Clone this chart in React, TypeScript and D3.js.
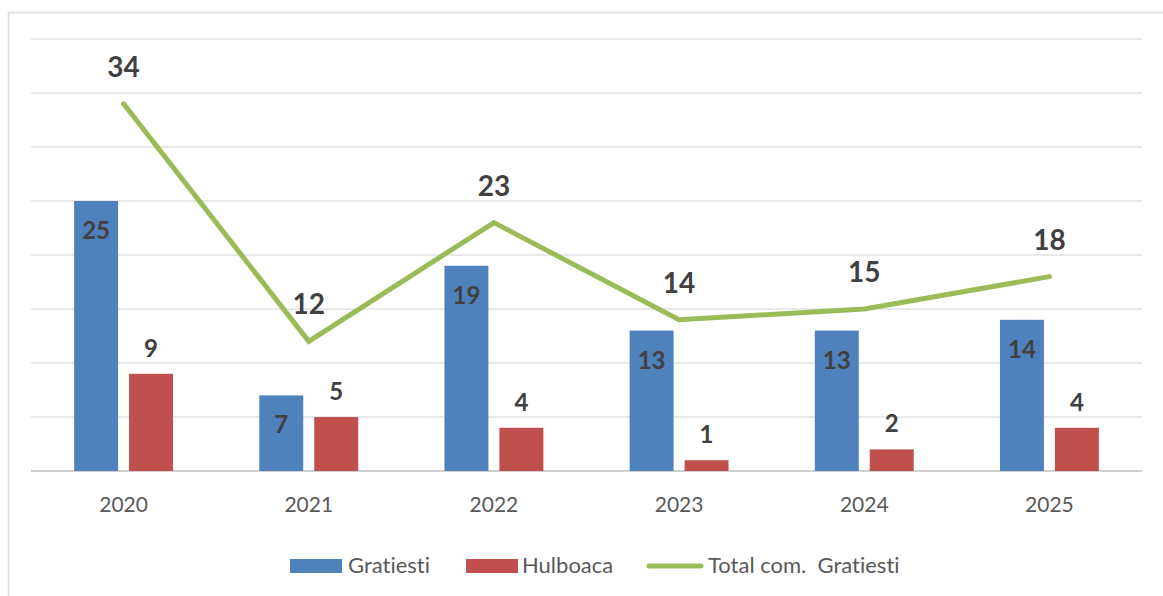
import React, { useEffect } from 'react';
import * as d3 from 'd3';

// chart data
const years = ['2020', '2021', '2022', '2023', '2024', '2025'];
const gratiesti = [25, 7, 19, 13, 13, 14];
const hulboaca = [9, 5, 4, 1, 2, 4];
const total = [34, 12, 23, 14, 15, 18];
const yTicks = [0, 5, 10, 15, 20, 25, 30, 35, 40];

const W = 1163;
const H = 596;
const FONT = 'Lato, "Open Sans", sans-serif';
const BLUE = '#4F81BD';
const RED = '#C0504D';
const GREEN = '#9BBB59';
const LABEL = '#404040';
const AXIS = '#595959';

export default function App() {
    useEffect(() => {
        document.body.style.margin = '0';
    }, []);

    const x = d3.scaleBand<string>().domain(years).range([31, 1142]).padding(0);
    const xs = d3.scaleBand<string>()
        .domain(['g', 'h'])
        .range([0, x.bandwidth()])
        .paddingInner(0.2)
        .paddingOuter(0.785);
    const y = d3.scaleLinear().domain([0, 40]).range([471, 39]);

    const lineGen = d3.line<number>()
        .x((d, i) => x(years[i])! + x.bandwidth() / 2)
        .y(d => y(d));

    return (
        <svg width={W} height={H} style={{ display: 'block', fontVariantLigatures: 'none' }} fontFamily={FONT}>
            <rect x={0} y={0} width={W} height={H} fill="#fff" />
            <rect x={8.5} y={12.5} width={1160} height={600} fill="none" stroke="#d9d9d9" strokeWidth={1.5} />

            {/* gridlines */}
            <g>
                {yTicks.map(t => (
                    <line key={t} x1={31} x2={1142} y1={y(t)} y2={y(t)}
                        stroke={t === 0 ? '#d0d0d0' : '#e0e0e0'} strokeWidth={t === 0 ? 2 : 1.5} />
                ))}
            </g>

            {/* bars */}
            <g>
                {years.map((yr, i) => {
                    const bx = x(yr)!;
                    return (
                        <g key={yr}>
                            <rect x={bx + xs('g')!} y={y(gratiesti[i])} width={xs.bandwidth()}
                                height={y(0) - y(gratiesti[i])} fill={BLUE} />
                            <rect x={bx + xs('h')!} y={y(hulboaca[i])} width={xs.bandwidth()}
                                height={y(0) - y(hulboaca[i])} fill={RED} />
                            <text x={bx + xs('g')! + xs.bandwidth() / 2} y={y(gratiesti[i]) + 38}
                                textAnchor="middle" fontSize={24} fontWeight="bold" fill={LABEL}>{gratiesti[i]}</text>
                            <text x={bx + xs('h')! + xs.bandwidth() / 2} y={y(hulboaca[i]) - 17}
                                textAnchor="middle" fontSize={24} fontWeight="bold" fill={LABEL}>{hulboaca[i]}</text>
                        </g>
                    );
                })}
            </g>

            {/* total line */}
            <path d={lineGen(total)!} fill="none" stroke={GREEN} strokeWidth={5}
                strokeLinecap="round" strokeLinejoin="miter" />
            <g>
                {total.map((v, i) => (
                    <text key={i} x={x(years[i])! + x.bandwidth() / 2} y={y(v) - 27}
                        textAnchor="middle" fontSize={28} fontWeight="bold" fill={LABEL}>{v}</text>
                ))}
            </g>

            {/* x axis labels */}
            <g>
                {years.map(yr => (
                    <text key={yr} x={x(yr)! + x.bandwidth() / 2} y={512}
                        textAnchor="middle" fontSize={21} fill={AXIS}>{yr}</text>
                ))}
            </g>

            {/* legend */}
            <g fontSize={22} fill={AXIS}>
                <rect x={290} y={559} width={52} height={14} fill={BLUE} />
                <text x={348} y={573}>Gratiesti</text>
                <rect x={466} y={559} width={52} height={14} fill={RED} />
                <text x={522} y={573}>Hulboaca</text>
                <line x1={649} x2={701} y1={566} y2={566} stroke={GREEN} strokeWidth={5} strokeLinecap="round" />
                <text x={708} y={573} style={{ whiteSpace: 'pre' }}>Total com.  Gratiesti</text>
            </g>
        </svg>
    );
}
